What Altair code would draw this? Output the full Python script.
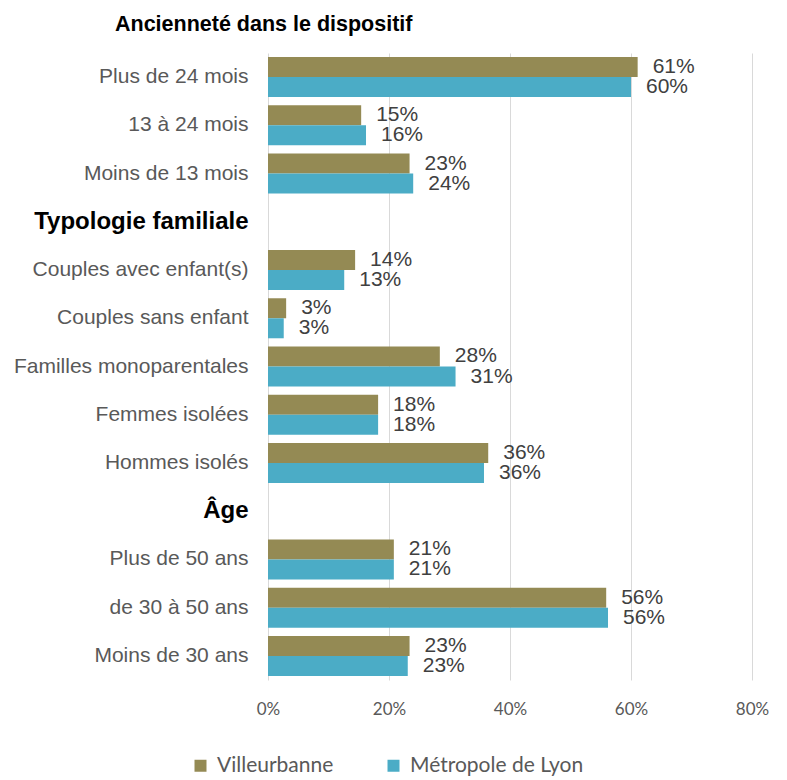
import altair as alt
import pandas as pd

rows = ["Plus de 24 mois", "13 à 24 mois", "Moins de 13 mois", "Typologie familiale",
        "Couples avec enfant(s)", "Couples sans enfant", "Familles monoparentales",
        "Femmes isolées", "Hommes isolés", "Âge", "Plus de 50 ans", "de 30 à 50 ans",
        "Moins de 30 ans"]
headers = ["Typologie familiale", "Âge"]
categories = ["Plus de 24 mois", "13 à 24 mois", "Moins de 13 mois",
              "Couples avec enfant(s)", "Couples sans enfant", "Familles monoparentales",
              "Femmes isolées", "Hommes isolés",
              "Plus de 50 ans", "de 30 à 50 ans", "Moins de 30 ans"]
villeurbanne = [61.1, 15.4, 23.4, 14.4, 3.0, 28.4, 18.2, 36.4, 20.8, 55.9, 23.4]
metropole = [60.0, 16.2, 24.0, 12.6, 2.6, 31.0, 18.2, 35.7, 20.8, 56.2, 23.1]
series = ["Villeurbanne", "Métropole de Lyon"]
colors = ["#948A54", "#4BACC6"]

recs = []
for c, v, m in zip(categories, villeurbanne, metropole):
    recs.append({"cat": c, "serie": series[0], "val": v / 100})
    recs.append({"cat": c, "serie": series[1], "val": m / 100})
df = pd.DataFrame(recs)

test = "indexof(['Typologie familiale','Âge'], datum.value) >= 0"

y = alt.Y("cat:N", sort=rows,
          scale=alt.Scale(domain=rows, paddingInner=0.17, paddingOuter=0.085),
          axis=alt.Axis(title=None, ticks=False, domain=False, labelPadding=20,
                        labelFont="Liberation Sans",
                        labelFontSize={"condition": {"test": test, "value": 24}, "value": 21},
                        labelColor={"condition": {"test": test, "value": "#000000"}, "value": "#595959"},
                        labelFontWeight={"condition": {"test": test, "value": "bold"}, "value": "normal"},
                        labelLimit=400))
yoff = alt.YOffset("serie:N", sort=series)
x = alt.X("val:Q", scale=alt.Scale(domain=[0, 0.8], nice=False),
          axis=alt.Axis(title=None, format=".0%", values=[0, 0.2, 0.4, 0.6, 0.8],
                        ticks=False, domain=False, grid=True, gridColor="#D9D9D9",
                        labelFlush=False,
                        labelPadding=21, labelFont="Lato", labelFontSize=17,
                        labelColor="#595959"))
color = alt.Color("serie:N", sort=series,
                  scale=alt.Scale(domain=series, range=colors),
                  legend=alt.Legend(title=None, orient="none", direction="horizontal",
                                    legendX=-78, legendY=702, symbolType="square",
                                    symbolSize=144, symbolStrokeWidth=0,
                                    labelFont="Lato", labelFontSize=21, labelLimit=400,
                                    labelColor="#595959", columnPadding=49,
                                    labelOffset=6))

bars = alt.Chart(df).mark_bar(size=20).encode(y=y, yOffset=yoff, x=x, color=color)
text = alt.Chart(df).mark_text(align="left", dx=15, font="Liberation Sans",
                               fontSize=21, color="#404040").encode(
    y=alt.Y("cat:N", sort=rows), yOffset=yoff, x="val:Q",
    text=alt.Text("val:Q", format=".0%"))

chart = (bars + text).properties(
    width=484, height=627,
    padding={"left": 5, "top": 5, "right": 5, "bottom": 0},
    title=alt.TitleParams("Ancienneté dans le dispositif", anchor="start", frame="group",
                          dx=-153, font="Liberation Sans", fontSize=21.5, fontWeight="bold",
                          color="#000000", offset=18),
).configure_view(stroke=None)

chart.save("out.html", embed_options={"renderer": "svg", "actions": False})
